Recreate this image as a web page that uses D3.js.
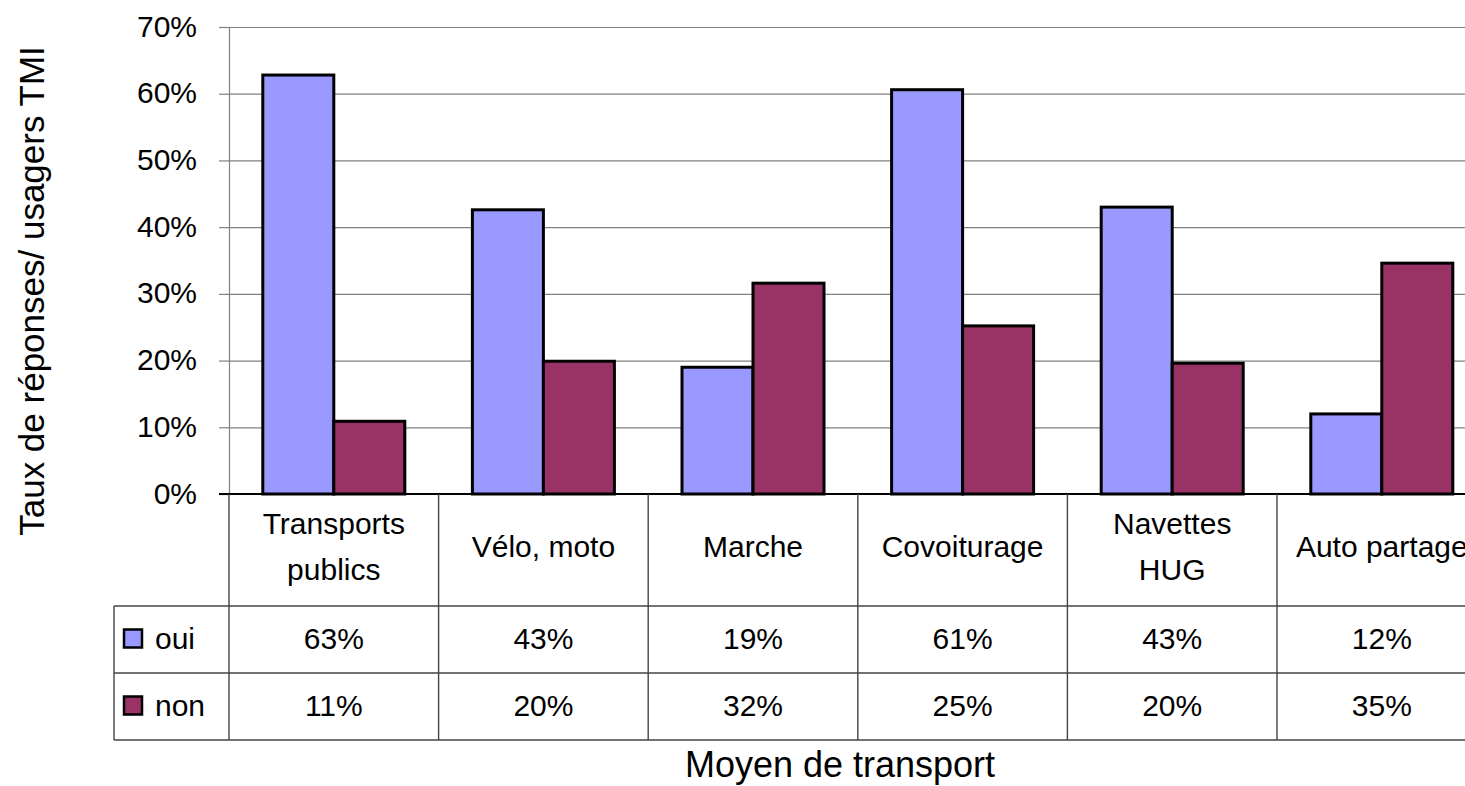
<!DOCTYPE html>
<html>
<head>
<meta charset="utf-8">
<script src="https://cdn.jsdelivr.net/npm/d3@7"></script>
<style>
  html, body { margin: 0; padding: 0; background: #fff; overflow: hidden; }
  svg { display: block; font-family: "Liberation Sans", Arial, sans-serif; }
</style>
</head>
<body>
<svg id="chart" width="1465" height="786"></svg>
<script>
const categories = [["Transports", "publics"], ["Vélo, moto"], ["Marche"], ["Covoiturage"], ["Navettes", "HUG"], ["Auto partage"]];
const seriesNames = ["oui", "non"];
const ouiValues = [0.628, 0.426, 0.19, 0.606, 0.43, 0.12];
const nonValues = [0.109, 0.199, 0.316, 0.252, 0.196, 0.346];
const tickValues = [0, 0.1, 0.2, 0.3, 0.4, 0.5, 0.6, 0.7];
const colors = ["#9999FF", "#993366"];
const yTitle = "Taux de réponses/ usagers TMI";
const xTitle = "Moyen de transport";

const series = [ouiValues, nonValues];
const svg = d3.select("#chart");

const plotLeft = 229, plotTop = 27, plotBottom = 494, bandW = 209.6;
const plotRight = plotLeft + bandW * categories.length;
const rowTop = 606, rowH = 67, tableLeft = 114, tableBottom = rowTop + rowH * 2;

const x = d3.scaleBand().domain(d3.range(categories.length)).range([plotLeft, plotRight]).padding(0);
const xs = d3.scaleBand().domain(d3.range(series.length)).range([0, x.bandwidth()]).paddingInner(0).paddingOuter(0.476);
const y = d3.scaleLinear().domain([0, 0.7]).range([plotBottom, plotTop]);

// gridlines
const grid = svg.append("g").attr("transform", `translate(${plotLeft},0)`)
  .call(d3.axisLeft(y).tickValues(tickValues.slice(1)).tickSize(-(plotRight - plotLeft)).tickFormat(""));
grid.select(".domain").remove();
grid.selectAll("line").attr("stroke", "#808080").attr("stroke-width", 1.2);

// y axis
const yAxis = svg.append("g").attr("transform", `translate(${plotLeft},0)`)
  .call(d3.axisLeft(y).tickValues(tickValues).tickSize(10).tickPadding(22).tickFormat(d3.format(".0%")));
yAxis.select(".domain").attr("stroke", "#808080").attr("stroke-width", 1.2);
yAxis.selectAll("line").attr("stroke", "#808080").attr("stroke-width", 1.2);
yAxis.selectAll("text").attr("font-size", 30).attr("fill", "#000").attr("font-family", "Liberation Sans, Arial, sans-serif").attr("dy", "0.3em");

// bars
const groups = svg.append("g").selectAll("g").data(categories).join("g")
  .attr("transform", (d, i) => `translate(${x(i)},0)`);
groups.selectAll("rect").data((d, i) => series.map((s, j) => ({ j, v: s[i] }))).join("rect")
  .attr("x", d => xs(d.j))
  .attr("width", xs.bandwidth())
  .attr("y", d => y(d.v))
  .attr("height", d => y(0) - y(d.v))
  .attr("fill", d => colors[d.j])
  .attr("stroke", "#000")
  .attr("stroke-width", 3);

// zero line
svg.append("line").attr("x1", plotLeft - 10).attr("x2", plotRight).attr("y1", y(0)).attr("y2", y(0))
  .attr("stroke", "#000").attr("stroke-width", 2);

// table lines
const tl = svg.append("g").attr("stroke", "#444").attr("stroke-width", 1.4);
d3.range(categories.length + 1).forEach(i => {
  const xx = i < categories.length ? x(i) : plotRight;
  tl.append("line").attr("x1", xx).attr("x2", xx).attr("y1", plotBottom).attr("y2", tableBottom);
});
tl.append("line").attr("x1", tableLeft).attr("x2", tableLeft).attr("y1", rowTop).attr("y2", tableBottom);
[rowTop, rowTop + rowH, tableBottom].forEach(yy => {
  tl.append("line").attr("x1", tableLeft).attr("x2", plotRight).attr("y1", yy).attr("y2", yy);
});

// category labels
const catG = svg.append("g").attr("font-size", 30).attr("text-anchor", "middle").attr("fill", "#000");
categories.forEach((lines, i) => {
  const cx = x(i) + x.bandwidth() / 2;
  const lh = 46;
  const cy = 546;
  lines.forEach((ln, k) => {
    catG.append("text").attr("x", cx)
      .attr("y", cy + (k - (lines.length - 1) / 2) * lh)
      .attr("dy", "0.35em").text(ln);
  });
});

// table values
const fmt = d3.format(".0%");
series.forEach((s, j) => {
  const cy = rowTop + rowH * j + rowH / 2 - 1;
  svg.append("g").selectAll("text").data(s).join("text")
    .attr("x", (d, i) => x(i) + x.bandwidth() / 2)
    .attr("y", cy).attr("dy", "0.35em")
    .attr("text-anchor", "middle").attr("font-size", 30).attr("fill", "#000")
    .text(d => fmt(d));
  svg.append("rect").attr("x", 124).attr("y", cy - 9).attr("width", 18).attr("height", 18)
    .attr("fill", colors[j]).attr("stroke", "#000").attr("stroke-width", 2.5);
  svg.append("text").attr("x", 155).attr("y", cy).attr("dy", "0.35em")
    .attr("font-size", 30).attr("fill", "#000").text(seriesNames[j]);
});

// axis titles
svg.append("text").attr("transform", `translate(32,291) rotate(-90)`)
  .attr("text-anchor", "middle").attr("dy", "0.35em").attr("font-size", 35).attr("fill", "#000").text(yTitle);
svg.append("text").attr("x", 840).attr("y", 777)
  .attr("text-anchor", "middle").attr("font-size", 36).attr("fill", "#000").text(xTitle);
</script>
</body>
</html>
